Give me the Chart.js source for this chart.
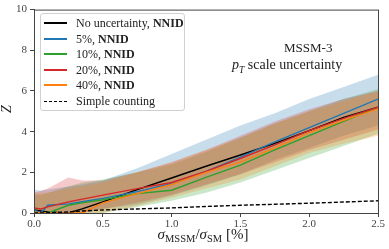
<!DOCTYPE html>
<html>
<head>
<meta charset="utf-8">
<script src="https://cdn.jsdelivr.net/npm/chart.js@4"></script>
<style>
  body { margin: 0; background: #fff; }
  #wrap { position: relative; width: 389px; height: 249px; font-family: "Liberation Serif", "DejaVu Serif", serif; color: #222; }
  #legend {
    position: absolute; left: 40px; top: 13px; width: 145px; height: 98px;
    background: rgba(255,255,255,0.85); border: 1px solid #d0d0d0; border-radius: 3px;
    font-size: 12px; box-sizing: border-box;
  }
  .row { position: absolute; left: 3px; height: 14px; display: flex; align-items: center; white-space: nowrap; }
  .swatch { display: inline-block; width: 23px; height: 2px; margin-right: 9px; }
  .swatch.dash { height: 0; border-top: 1px dashed #000; }
  .note { position: absolute; font-size: 13px; white-space: nowrap; }
  .xtitle { position: absolute; left: 203px; top: 226px; transform: translateX(-50%); font-size: 15px; white-space: nowrap; }
  .xtitle sub { font-size: 10.5px; vertical-align: -3px; font-style: normal; }
  .ytitle { position: absolute; left: 3px; top: 101px; font-size: 14px; font-style: italic; transform: rotate(-90deg); }
</style>
</head>
<body>
<div id="wrap">
  <canvas id="zChart" width="389" height="249"></canvas>
  <div id="legend"></div>
  <div class="note" style="left:284px; top:40px;">MSSM-3</div>
  <div class="note" style="left:232px; top:57px; font-size:14px;"><i>p<sub style="font-size:9.5px">T</sub></i> scale uncertainty</div>
  <div class="xtitle"><i>σ</i><sub>MSSM</sub>/<i>σ</i><sub>SM</sub> [%]</div>
  <div class="ytitle">Z</div>
</div>
<script>
// signal strength ratio in %
const xValues = [0, 0.05, 0.1, 0.25, 0.35, 0.5, 0.75, 1.0, 1.25, 1.5, 1.75, 2.0, 2.25, 2.5];

// central lines
const noUncert = [0.15, 0.1, 0.05, 0.0, 0.2, 0.55, 1.15, 1.72, 2.3, 2.85, 3.42, 4.05, 4.7, 5.2];
const nnid5   = [0.15, 0.0, 0.38, 0.45, 0.55, 0.72, 1.05, 1.45, 2.05, 2.75, 3.5, 4.2, 4.9, 5.6];
const nnid10  = [0.05, 0.0, 0.0, 0.38, 0.5, 0.65, 0.95, 1.12, 1.75, 2.35, 3.1, 3.8, 4.5, 5.2];
const nnid20  = [0.25, 0.2, 0.3, 0.55, 0.68, 0.88, 1.2, 1.5, 2.05, 2.68, 3.35, 4.05, 4.65, 5.2];
const nnid40  = [0.05, 0.0, 0.0, 0.0, 0.0, 0.5, 0.95, 1.4, 2.0, 2.5, 3.2, 3.95, 4.55, 5.12];
const simpleCounting = [0, 0.0, 0.01, 0.05, 0.1, 0.15, 0.2, 0.25, 0.32, 0.38, 0.43, 0.48, 0.54, 0.6];

// uncertainty bands
const nnid5Hi  = [1.15, 1.1, 1.15, 1.3, 1.4, 1.6, 2.2, 2.9, 3.6, 4.3, 4.9, 5.6, 6.2, 6.8];
const nnid5Lo  = [0, 0, 0, 0, 0, 0.2, 0.4, 0.85, 1.35, 1.9, 2.6, 3.2, 3.8, 4.3];
const nnid10Hi = [0.9, 0.9, 1.0, 1.3, 1.5, 1.65, 2.0, 2.4, 3.0, 3.7, 4.4, 5.0, 5.6, 6.1];
const nnid10Lo = [0, 0, 0, 0, 0, 0, 0.3, 0.6, 1.0, 1.5, 2.1, 2.7, 3.3, 3.9];
const nnid20Hi = [1.0, 1.1, 1.2, 1.75, 1.6, 1.6, 2.0, 2.5, 3.1, 3.8, 4.5, 5.1, 5.6, 6.0];
const nnid20Lo = [0, 0, 0, 0, 0, 0.2, 0.5, 0.9, 1.4, 1.9, 2.5, 3.1, 3.6, 4.1];
const nnid40Hi = [1.0, 1.0, 1.0, 1.2, 1.3, 1.5, 2.0, 2.5, 3.1, 3.7, 4.4, 5.0, 5.5, 6.0];
const nnid40Lo = [0, 0, 0, 0, 0, 0, 0.35, 0.75, 1.2, 1.65, 2.3, 2.95, 3.4, 3.8];

const xTicks = [0, 0.5, 1.0, 1.5, 2.0, 2.5];
const yTicks = [0, 2, 4, 6, 8, 10];

const blue = '#1f77b4', orange = '#ff7f0e', green = '#2ca02c', red = '#d62728';

function pts(ys) {
    return xValues.map((x, i) => ({ x: x, y: ys[i] }));
}

function lineSet(label, ys, color, dash) {
    return {
        label: label, data: pts(ys), borderColor: color, borderWidth: 1.4,
        borderDash: dash || [], pointRadius: 0, fill: false, tension: 0, order: 0
    };
}

function bandPair(lo, hi, rgb) {
    return [
        { label: '', data: pts(lo), borderWidth: 0, pointRadius: 0, fill: false, order: 1 },
        { label: '', data: pts(hi), borderWidth: 0, pointRadius: 0, fill: '-1',
          backgroundColor: 'rgba(' + rgb + ',0.25)', order: 1 }
    ];
}

// higher index is painted first, so blue ends up at the bottom
const datasets = [
    ...bandPair(nnid40Lo, nnid40Hi, '255,127,14'),
    ...bandPair(nnid20Lo, nnid20Hi, '214,39,40'),
    ...bandPair(nnid10Lo, nnid10Hi, '44,160,44'),
    ...bandPair(nnid5Lo, nnid5Hi, '31,119,180'),
    lineSet('Simple counting', simpleCounting, '#000', [4, 2]),
    lineSet('40%', nnid40, orange),
    lineSet('20%', nnid20, red),
    lineSet('10%', nnid10, green),
    lineSet('5%', nnid5, blue),
    lineSet('No uncertainty', noUncert, '#000')
];

// frame around the plot area
const frame = {
    id: 'frame',
    afterDraw(chart) {
        const a = chart.chartArea, c = chart.ctx;
        c.save();
        c.strokeStyle = '#444';
        c.lineWidth = 1;
        c.strokeRect(a.left + 0.5, a.top + 0.5, a.right - a.left, a.bottom - a.top);
        c.restore();
    }
};

const tickFont = { family: '"Liberation Serif", serif', size: 11 };

new Chart(document.getElementById('zChart'), {
    type: 'line',
    data: { datasets: datasets },
    options: {
        responsive: false, animation: false,
        layout: { padding: { top: 8, right: 11, left: 0, bottom: 0 } },
        plugins: { legend: { display: false }, tooltip: { enabled: false } },
        scales: {
            x: {
                type: 'linear', min: 0, max: 2.5,
                afterBuildTicks: s => { s.ticks = xTicks.map(v => ({ value: v })); },
                afterFit: s => { s.height = 36; },
                ticks: { font: tickFont, color: '#444', padding: 1, maxRotation: 0,
                         callback: v => v.toFixed(1) },
                grid: { drawOnChartArea: false, tickLength: 4, tickColor: '#444' },
                border: { color: '#444' }
            },
            y: {
                min: 0, max: 10,
                afterBuildTicks: s => { s.ticks = yTicks.map(v => ({ value: v })); },
                afterFit: s => { s.width = 34; },
                ticks: { font: tickFont, color: '#444', padding: 3 },
                grid: { drawOnChartArea: false, tickLength: 4, tickColor: '#444' },
                border: { color: '#444' }
            }
        }
    },
    plugins: [frame]
});

// legend box in the upper left corner
const legendItems = [
    ['#000', false, 'No uncertainty, ', 'NNID'],
    [blue, false, '5%, ', 'NNID'],
    [green, false, '10%, ', 'NNID'],
    [red, false, '20%, ', 'NNID'],
    [orange, false, '40%, ', 'NNID'],
    ['#000', true, 'Simple counting', '']
];
const legend = document.getElementById('legend');
legendItems.forEach((it, i) => {
    const row = document.createElement('div');
    row.className = 'row';
    row.style.top = Math.round(2 + i * 15.6) + 'px';
    const sw = it[1] ? '<span class="swatch dash"></span>'
                     : '<span class="swatch" style="background:' + it[0] + '"></span>';
    row.innerHTML = sw + '<span>' + it[2] + (it[3] ? '<b>' + it[3] + '</b>' : '') + '</span>';
    legend.appendChild(row);
});
</script>
</body>
</html>
